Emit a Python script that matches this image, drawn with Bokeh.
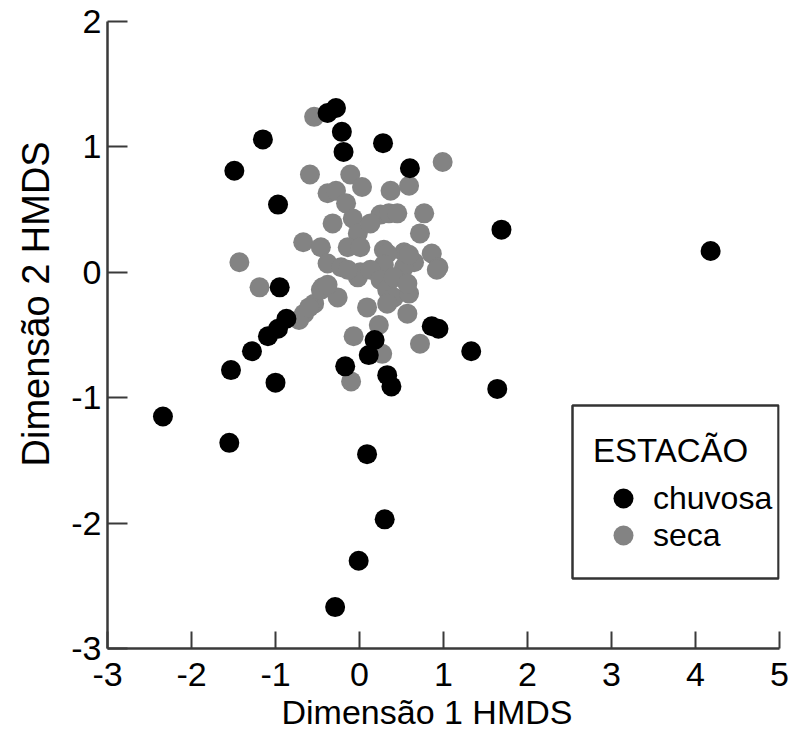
from bokeh.plotting import figure
from bokeh.models import FixedTicker, Legend, LegendItem, Range1d, Title, BoxAnnotation
from bokeh.embed import file_html
from bokeh.resources import INLINE

# ---- data ----
chuvosa_x = [-0.28, -0.38, -0.21, -0.19, 0.28, 0.60, -1.15, -1.49, -0.97, -0.95, 1.69, 4.18,
             -0.87, -0.97, -1.09, -1.28, -1.53, -1.00, -2.34, -1.55,
             0.86, 0.94, 1.33, 1.64, 0.18, 0.11, -0.17, 0.33, 0.38, 0.09,
             0.30, -0.01, -0.29]
chuvosa_y = [1.31, 1.27, 1.12, 0.96, 1.03, 0.83, 1.06, 0.81, 0.54, -0.12, 0.34, 0.17,
             -0.37, -0.45, -0.51, -0.63, -0.78, -0.88, -1.15, -1.36,
             -0.43, -0.45, -0.63, -0.93, -0.54, -0.66, -0.75, -0.82, -0.91, -1.45,
             -1.97, -2.30, -2.67]

seca_x = [-0.54, -0.59, -0.11, 0.99, -0.38, -0.28, 0.03, 0.37, 0.59, -0.16,
          -0.32, -0.08, -0.02, 0.25, 0.35, 0.45, 0.13, 0.77, 0.72, -0.67,
          -0.46, -0.14, 0.01, 0.29, 0.53, 0.86, 0.94, 0.33, -1.43, -0.38,
          -0.22, 0.01, 0.29, 0.65, 0.53, 0.59, -1.19, -0.44, -0.26, -0.54,
          -0.66, -0.72, -0.60, -0.46, -0.38, -0.02, 0.13, 0.25, 0.33, 0.41,
          0.59, 0.09, 0.33, 0.57, 0.41, 0.57, 0.23, -0.07, 0.72, 0.27,
          -0.10, -0.14, 0.92]
seca_y = [1.24, 0.78, 0.78, 0.88, 0.63, 0.65, 0.68, 0.65, 0.69, 0.55,
          0.39, 0.43, 0.31, 0.46, 0.47, 0.47, 0.39, 0.47, 0.31, 0.24,
          0.20, 0.20, 0.20, 0.18, 0.16, 0.15, 0.04, 0.15, 0.08, 0.07,
          0.04, 0.00, 0.06, 0.08, 0.04, 0.14, -0.12, -0.12, -0.20, -0.25,
          -0.33, -0.38, -0.28, -0.14, -0.10, -0.04, 0.02, -0.06, -0.14, -0.20,
          -0.17, -0.28, -0.25, -0.33, -0.04, -0.09, -0.42, -0.51, -0.57, -0.65,
          -0.87, 0.02, 0.02]

x_ticks = [-3, -2, -1, 0, 1, 2, 3, 4, 5]
y_ticks = [-3, -2, -1, 0, 1, 2]
x_title = "Dimensão 1 HMDS"
y_title = "Dimensão 2 HMDS"
legend_title = "ESTACÃO"
series_names = ["chuvosa", "seca"]

FONT = "Liberation Sans"
AXC = "#3a3a3a"

p = figure(width=789, height=747, output_backend="svg", toolbar_location=None,
           x_range=Range1d(-3, 5), y_range=Range1d(-3, 2),
           min_border_left=106, min_border_right=10, min_border_top=21, min_border_bottom=99)
p.background_fill_color = "white"
p.border_fill_color = "white"
p.outline_line_color = None
p.xgrid.visible = False
p.ygrid.visible = False

for ax, ticks, tick_in, standoff in ((p.xaxis[0], x_ticks, 17, 14), (p.yaxis[0], y_ticks, 20, 6)):
    ax.ticker = FixedTicker(ticks=ticks)
    ax.major_label_overrides = {t: str(t) for t in ticks}
    ax.axis_line_color = AXC
    ax.axis_line_width = 2.5
    ax.major_tick_line_color = AXC
    ax.major_tick_line_width = 2
    ax.major_tick_in = tick_in
    ax.major_tick_out = 0
    ax.minor_tick_in = 0
    ax.minor_tick_out = 0
    ax.major_label_text_font = FONT
    ax.major_label_text_font_size = "34px"
    ax.major_label_text_color = "black"
    ax.major_label_standoff = standoff

r_se = p.scatter(seca_x, seca_y, size=20, fill_color="#838383", line_color=None)
r_ch = p.scatter(chuvosa_x, chuvosa_y, size=20, fill_color="black", line_color=None)

# axis titles
xt = Title(text=x_title, align="left", offset=174, vertical_align="top", standoff=8,
           text_font=FONT, text_font_size="34px", text_font_style="normal", text_color="black")
yt = Title(text=y_title, align="left", offset=182, vertical_align="bottom", standoff=24,
           text_font=FONT, text_font_size="38px", text_font_style="normal", text_color="black")
p.add_layout(xt, "below")
p.add_layout(yt, "left")

# legend frame
box = BoxAnnotation(left=465, right=671, bottom=70, top=243,
                    left_units="screen", right_units="screen",
                    bottom_units="screen", top_units="screen",
                    fill_color="white", fill_alpha=1.0,
                    line_color="#333333", line_alpha=1.0, line_width=2.5)
p.add_layout(box)


def make_legend(items, loc, title=None):
    lg = Legend(items=items, location=loc)
    if title is not None:
        lg.title = title
        lg.title_text_font = FONT
        lg.title_text_font_size = "33px"
        lg.title_text_font_style = "normal"
        lg.title_text_color = "black"
        lg.title_standoff = 3
    lg.label_text_font = FONT
    lg.label_text_font_size = "32px"
    lg.label_text_color = "black"
    lg.glyph_width = 60
    lg.glyph_height = 50
    lg.label_height = 50
    lg.label_standoff = 0
    lg.spacing = 0
    lg.padding = 0
    lg.margin = 0
    lg.border_line_color = None
    lg.background_fill_alpha = 0
    return lg


leg1 = make_legend([LegendItem(label=series_names[0], renderers=[r_ch])], (486, 125), legend_title)
leg2 = make_legend([LegendItem(label=series_names[1], renderers=[r_se])], (486, 88))
p.add_layout(leg1)
p.add_layout(leg2)

open("out.html", "w").write(file_html(p, INLINE))
